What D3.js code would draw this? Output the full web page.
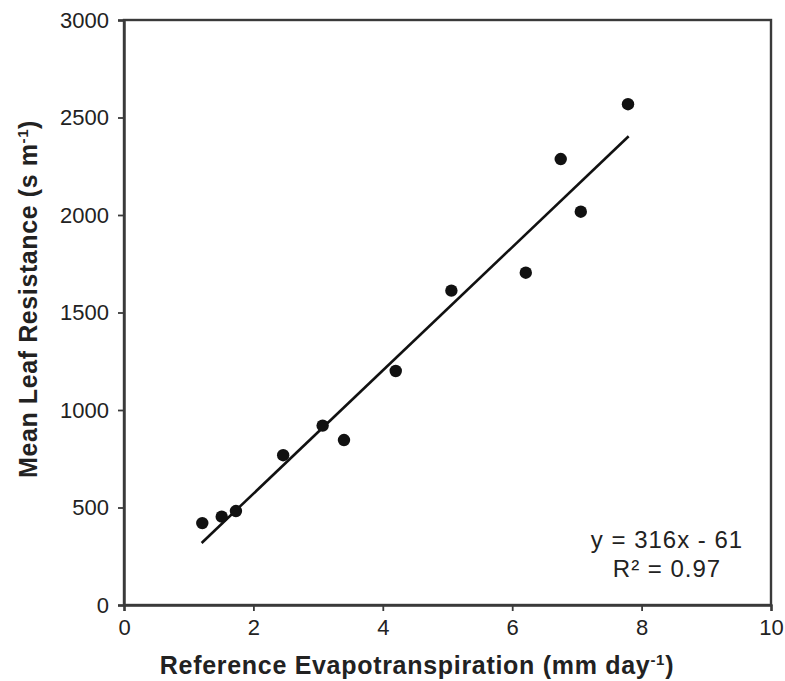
<!DOCTYPE html>
<html>
<head>
<meta charset="utf-8">
<script src="https://cdn.jsdelivr.net/npm/d3@7"></script>
<style>
  html, body { margin: 0; padding: 0; background: #fff; }
  svg { display: block; }
  text { font-family: "Liberation Sans", Arial, sans-serif; fill: #222; }
</style>
</head>
<body>
<svg id="chart" width="785" height="681"></svg>
<script>
// Reference evapotranspiration (mm/day) vs. mean leaf resistance (s/m)
const etValues = [1.21, 1.51, 1.73, 2.46, 3.07, 3.40, 4.20, 5.06, 6.21, 6.75, 7.06, 7.79];
const resistanceValues = [420, 453, 482, 768, 920, 846, 1200, 1612, 1704, 2287, 2017, 2568];

// Fitted regression: y = 316x - 61
const fitSlope = 316;
const fitIntercept = -61;
const fitRange = [1.2, 7.8];
const fitLabels = ["y = 316x - 61", "R² = 0.97"];

const xTicks = [0, 2, 4, 6, 8, 10];
const yTicks = [0, 500, 1000, 1500, 2000, 2500, 3000];

const svg = d3.select("#chart");
const plot = { left: 124, right: 771, top: 20, bottom: 605 };

const x = d3.scaleLinear().domain([0, 10]).range([plot.left, plot.right]);
const y = d3.scaleLinear().domain([0, 3000]).range([plot.bottom, plot.top]);

const axisColor = "#3a3a3a";

// Frame around the plotting area
svg.append("rect")
  .attr("x", plot.left).attr("y", plot.top)
  .attr("width", plot.right - plot.left).attr("height", plot.bottom - plot.top)
  .attr("fill", "none").attr("stroke", axisColor).attr("stroke-width", 2.4);

// Axes
const xAxis = svg.append("g")
  .attr("transform", `translate(0,${plot.bottom})`)
  .call(d3.axisBottom(x).tickValues(xTicks).tickSize(6).tickPadding(8).tickFormat(d3.format("d")));
const yAxis = svg.append("g")
  .attr("transform", `translate(${plot.left},0)`)
  .call(d3.axisLeft(y).tickValues(yTicks).tickSize(6).tickPadding(9).tickFormat(d3.format("d")));

[xAxis, yAxis].forEach(g => {
  g.select(".domain").attr("stroke", axisColor).attr("stroke-width", 2.4);
  g.selectAll(".tick line").attr("stroke", axisColor).attr("stroke-width", 1.8);
  g.selectAll(".tick text")
    .attr("font-family", "Liberation Sans, Arial, sans-serif")
    .attr("font-size", 22).attr("fill", "#222");
});
xAxis.selectAll(".tick text").attr("dy", "0.72em");

// Regression line
svg.append("line")
  .attr("x1", x(fitRange[0])).attr("y1", y(fitSlope * fitRange[0] + fitIntercept))
  .attr("x2", x(fitRange[1])).attr("y2", y(fitSlope * fitRange[1] + fitIntercept))
  .attr("stroke", "#111").attr("stroke-width", 2.6);

// Observations
svg.append("g").selectAll("circle")
  .data(etValues.map((v, i) => [v, resistanceValues[i]]))
  .join("circle")
  .attr("cx", d => x(d[0])).attr("cy", d => y(d[1]))
  .attr("r", 6.2).attr("fill", "#111");

// Regression equation
svg.append("g").selectAll("text")
  .data(fitLabels)
  .join("text")
  .attr("x", 667).attr("y", (d, i) => 548 + i * 29)
  .attr("text-anchor", "middle").attr("font-size", 24).attr("letter-spacing", 1)
  .text(d => d);

// Axis titles
const xTitle = svg.append("text")
  .attr("x", 417).attr("y", 674)
  .attr("text-anchor", "middle").attr("font-size", 25).attr("font-weight", "bold")
  .attr("letter-spacing", 0.7);
xTitle.append("tspan").text("Reference Evapotranspiration (mm day");
xTitle.append("tspan").attr("dy", -9).attr("font-size", 15).text("-1");
xTitle.append("tspan").attr("dy", 9).text(")");

const yTitle = svg.append("text")
  .attr("transform", "translate(37,299) rotate(-90)")
  .attr("text-anchor", "middle").attr("font-size", 25).attr("font-weight", "bold")
  .attr("letter-spacing", 0.6);
yTitle.append("tspan").text("Mean Leaf Resistance (s m");
yTitle.append("tspan").attr("dy", -9).attr("font-size", 15).text("-1");
yTitle.append("tspan").attr("dy", 9).text(")");
</script>
</body>
</html>
